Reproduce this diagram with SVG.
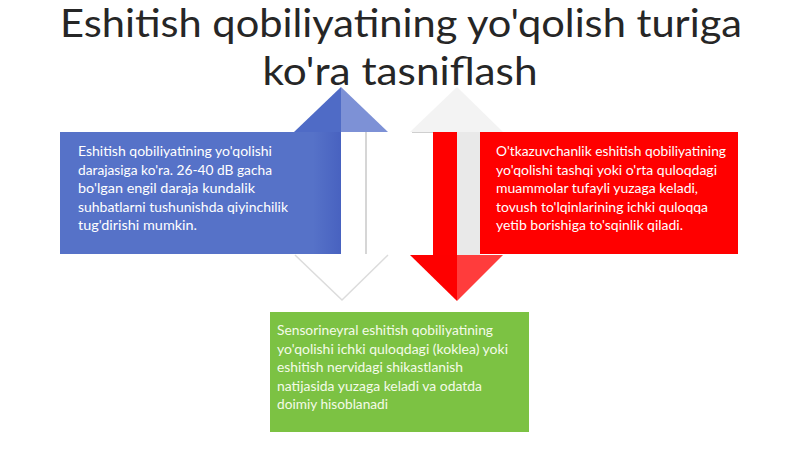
<svg xmlns="http://www.w3.org/2000/svg" width="800" height="449" viewBox="0 0 800 449">
<defs>
<style>
.title{font-family:"Lato","Liberation Sans",sans-serif;font-weight:400;font-size:38px;fill:#262626;text-anchor:middle}
.body{font-family:"Lato","Liberation Sans",sans-serif;font-size:13.5px;fill:#ffffff}
.gtext{fill:#f4fbe8}
</style>
<linearGradient id="blueShaft" x1="0" y1="0" x2="1" y2="0">
<stop offset="0" stop-color="#5672c8"/>
<stop offset="1" stop-color="#4862c0"/>
</linearGradient>
</defs>
<rect width="800" height="449" fill="#ffffff"/>
<g id="title">
<text class="title" x="401" y="37" textLength="682" lengthAdjust="spacingAndGlyphs">Eshitish qobiliyatining yo'qolish turiga</text>
<text class="title" x="400" y="85" textLength="275" lengthAdjust="spacingAndGlyphs">ko'ra tasniflash</text>
</g>
<g id="connectors">
<g id="blue-arrow">
<polygon points="341,87 294,132 341,132" fill="#4f6bc6"/>
<polygon points="341,87 388,132 341,132" fill="#7d91d6"/>
<rect x="313" y="132" width="28" height="122" fill="url(#blueShaft)"/>
<rect x="341" y="132" width="25" height="122" fill="#ffffff"/>
<line x1="366" y1="132" x2="366" y2="254" stroke="#c8c8c8" stroke-width="1.5"/>
<polygon points="295,255 342,300 388,255" fill="#ffffff"/>
<polyline points="295,255 342,300 388,255" fill="none" stroke="#dcdcdc" stroke-width="1.5"/>
</g>
<g id="red-arrow">
<polygon points="457,87 410,132 503,132" fill="#f3f3f3"/>
<line x1="412" y1="132.5" x2="433" y2="132.5" stroke="#cfcfcf" stroke-width="1"/>
<rect x="433" y="132" width="24" height="123" fill="#ff0000"/>
<rect x="457" y="132" width="23" height="123" fill="#e9e9e9"/>
<polygon points="410,255 457,301 457,255" fill="#fe0000"/>
<polygon points="457,255 503,255 457,301" fill="#ff3c3c"/>
</g>
</g>
<g id="node-blue">
<rect x="60" y="132" width="253" height="122" fill="#5672c8"/>
<text class="body" x="78" y="156" textLength="194" lengthAdjust="spacingAndGlyphs">Eshitish qobiliyatining yo'qolishi</text>
<text class="body" x="78" y="174.5" textLength="194" lengthAdjust="spacingAndGlyphs">darajasiga ko'ra. 26-40 dB gacha</text>
<text class="body" x="78" y="193" textLength="177" lengthAdjust="spacingAndGlyphs">bo'lgan engil daraja kundalik</text>
<text class="body" x="78" y="211.5" textLength="210" lengthAdjust="spacingAndGlyphs">suhbatlarni tushunishda qiyinchilik</text>
<text class="body" x="78" y="230" textLength="119" lengthAdjust="spacingAndGlyphs">tug'dirishi mumkin.</text>
</g>
<g id="node-red">
<rect x="480" y="132" width="258" height="122" fill="#ff0000"/>
<text class="body" x="496" y="156" textLength="230" lengthAdjust="spacingAndGlyphs">O'tkazuvchanlik eshitish qobiliyatining</text>
<text class="body" x="496" y="174.5" textLength="221" lengthAdjust="spacingAndGlyphs">yo'qolishi tashqi yoki o'rta quloqdagi</text>
<text class="body" x="496" y="193" textLength="202" lengthAdjust="spacingAndGlyphs">muammolar tufayli yuzaga keladi,</text>
<text class="body" x="496" y="211.5" textLength="212" lengthAdjust="spacingAndGlyphs">tovush to'lqinlarining ichki quloqqa</text>
<text class="body" x="496" y="230" textLength="187" lengthAdjust="spacingAndGlyphs">yetib borishiga to'sqinlik qiladi.</text>
</g>
<g id="node-green">
<rect x="270" y="312" width="259" height="120" fill="#7cc243"/>
<text class="body gtext" x="277" y="335" textLength="216" lengthAdjust="spacingAndGlyphs">Sensorineyral eshitish qobiliyatining</text>
<text class="body gtext" x="277" y="353.5" textLength="231" lengthAdjust="spacingAndGlyphs">yo'qolishi ichki quloqdagi (koklea) yoki</text>
<text class="body gtext" x="277" y="372" textLength="186" lengthAdjust="spacingAndGlyphs">eshitish nervidagi shikastlanish</text>
<text class="body gtext" x="277" y="390.5" textLength="205" lengthAdjust="spacingAndGlyphs">natijasida yuzaga keladi va odatda</text>
<text class="body gtext" x="277" y="409" textLength="111" lengthAdjust="spacingAndGlyphs">doimiy hisoblanadi</text>
</g>
</svg>
